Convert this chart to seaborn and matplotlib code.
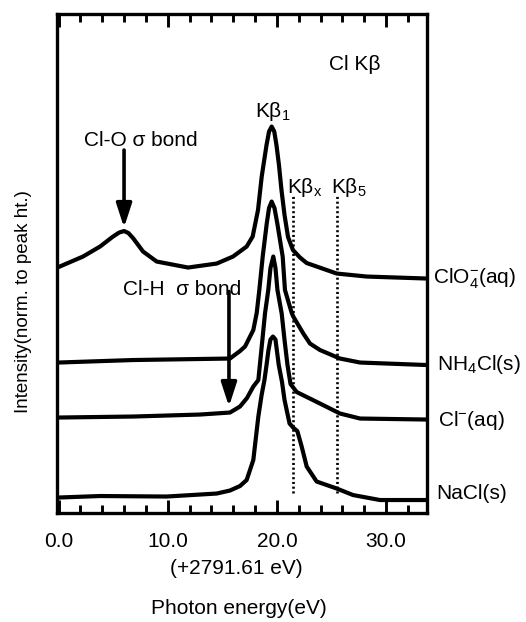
import matplotlib
matplotlib.use("Agg")
import matplotlib.pyplot as plt
import seaborn as sns
import pandas as pd

# ---------------- data ----------------
clo4_e = [0.0, 2.24, 3.80, 4.99, 5.55, 6.00, 6.40, 6.82, 7.74, 8.99, 11.86, 14.49, 15.98, 17.23,
          17.78, 18.27, 18.61, 19.05, 19.28, 19.52, 19.76, 19.96, 20.19, 20.42, 20.70, 21.02,
          21.47, 22.12, 22.73, 25.48, 28.22, 33.75]
clo4_i = [49.1, 51.2, 53.2, 55.2, 56.0, 56.3, 55.9, 54.9, 52.2, 50.2, 49.0, 49.8, 51.2, 53.2,
          55.2, 60.5, 67.2, 73.5, 76.2, 77.2, 76.2, 73.5, 69.5, 64.5, 59.5, 55.1,
          52.5, 51.0, 49.9, 47.8, 47.2, 46.8]

nh4_e = [0.0, 6.82, 15.70, 16.62, 17.08, 17.84, 18.15, 18.39, 18.70, 19.07, 19.28, 19.52, 19.78,
         20.04, 20.53, 20.74, 21.36, 21.50, 22.42, 23.03, 23.95, 25.78, 27.62, 33.75]
nh4_i = [30.0, 30.5, 30.8, 32.3, 33.2, 36.5, 39.9, 44.5, 51.2, 57.8, 60.9, 62.2, 60.9,
         57.8, 51.2, 44.5, 39.9, 39.2, 35.8, 33.8, 32.5, 30.8, 30.0, 29.5]

cl_e = [0.0, 6.82, 12.96, 15.70, 16.62, 17.26, 17.84, 18.30, 18.61, 18.91, 19.21, 19.41, 19.67,
        19.87, 20.05, 20.44, 20.70, 20.97, 21.25, 21.81, 23.95, 25.78, 27.62, 33.75]
cl_i = [19.0, 19.2, 19.6, 20.0, 21.2, 22.9, 25.2, 26.5, 33.2, 39.8, 44.5, 48.9, 51.2,
        48.9, 44.5, 39.8, 34.5, 29.5, 25.7, 24.1, 21.8, 19.8, 18.8, 18.6]

nacl_e = [0.0, 3.80, 9.91, 14.49, 15.70, 16.62, 17.23, 17.84, 18.30, 18.60, 18.86, 19.05, 19.23,
          19.41, 19.64, 19.87, 20.17, 20.47, 20.70, 21.16, 21.53, 21.87, 22.27, 22.73, 23.64,
          25.48, 26.97, 29.44, 33.75]
nacl_i = [3.0, 3.3, 3.2, 3.8, 4.4, 5.3, 6.5, 10.5, 19.2, 23.5, 26.5, 29.5, 32.5,
          34.6, 35.2, 34.6, 29.5, 26.1, 22.5, 17.8, 16.9, 16.3, 13.2, 9.2, 6.2,
          4.8, 3.5, 2.5, 2.5]

samples = ["ClO4-(aq)", "NH4Cl(s)", "Cl-(aq)", "NaCl(s)"]
sample_labels = ["ClO$_4^{-}$(aq)", "NH$_4$Cl(s)", "Cl$^{-}$(aq)", "NaCl(s)"]
label_pos = [(34.32, 45.8), (34.63, 28.6), (34.78, 17.3), (34.63, 2.8)]

line_positions = [21.50, 25.53]          # K-beta_x, K-beta_5 energies
line_range = (3.9, 63.5)

major_ticks = [0, 10, 20, 30]
major_labels = ["0.0", "10.0", "20.0", "30.0"]
minor_ticks = [2, 4, 6, 8, 12, 14, 16, 18, 22, 24, 26, 28, 32]

# ---------------- style ----------------
sns.set_theme(style="ticks")
plt.rcParams["font.family"] = ["Liberation Sans", "DejaVu Sans"]
plt.rcParams["mathtext.fontset"] = "custom"
plt.rcParams["mathtext.rm"] = "Liberation Sans"
plt.rcParams["mathtext.it"] = "Liberation Sans:italic"
plt.rcParams["mathtext.bf"] = "Liberation Sans:bold"
plt.rcParams["lines.solid_joinstyle"] = "round"
plt.rcParams["lines.solid_capstyle"] = "round"
plt.rcParams["text.color"] = "black"
plt.rcParams["xtick.color"] = "black"
plt.rcParams["xtick.labelcolor"] = "black"

df = pd.concat([
    pd.DataFrame({"energy": e, "intensity": i, "sample": s})
    for e, i, s in zip([clo4_e, nh4_e, cl_e, nacl_e],
                       [clo4_i, nh4_i, cl_i, nacl_i], samples)
], ignore_index=True)

fig = plt.figure(figsize=(5.26, 6.22), dpi=100)
ax = fig.add_axes([0.1084, 0.1760, 0.7034, 0.8014])

sns.lineplot(data=df, x="energy", y="intensity", hue="sample", units="sample",
             estimator=None, sort=False, palette=["black"] * 4, legend=False,
             linewidth=3.0, ax=ax)

for xv in line_positions:
    ax.plot([xv, xv], line_range, color="black", lw=1.9, linestyle=(0, (0.8, 1.0)))

ax.set_xlim(-0.14, 33.75)
ax.set_ylim(0, 99.7)
ax.set_xlabel("")
ax.set_ylabel("")
ax.set_yticks([])

for sp in ax.spines.values():
    sp.set_visible(True)
    sp.set_linewidth(2.4)
    sp.set_color("black")

ax.set_xticks(major_ticks)
ax.set_xticklabels(major_labels)
ax.set_xticks(minor_ticks, minor=True)
ax.tick_params(axis="x", which="both", direction="in", top=True, bottom=True,
               width=2.1, color="black", labelsize=15, pad=14, labelcolor="black")
ax.tick_params(axis="x", which="major", length=9.5)
ax.tick_params(axis="x", which="minor", length=5.5)
ax.tick_params(axis="y", which="both", left=False, right=False, labelleft=False)

fs = 15
# annotations
ax.text(27.15, 88.6, "Cl Kβ", fontsize=fs, ha="center", va="baseline")
ax.text(19.60, 79.2, "Kβ$_{1}$", fontsize=fs, ha="center", va="baseline")
ax.text(7.55, 73.4, "Cl-O σ bond", fontsize=fs, ha="center", va="baseline")
ax.text(22.57, 64.0, "Kβ$_{\\mathrm{x}}$", fontsize=fs, ha="center", va="baseline")
ax.text(26.56, 64.0, "Kβ$_{5}$", fontsize=fs, ha="center", va="baseline")
ax.text(11.28, 43.5, "Cl-H  σ bond", fontsize=fs, ha="center", va="baseline")

arrow_style = dict(arrowstyle="-|>,head_length=0.8,head_width=0.26", lw=2.6,
                   color="black", mutation_scale=18, shrinkA=0, shrinkB=0)
ax.annotate("", xy=(6.0, 57.0), xytext=(6.0, 72.5), arrowprops=arrow_style)
ax.annotate("", xy=(15.61, 21.2), xytext=(15.61, 44.2), arrowprops=arrow_style)

for lab, (xp, yp) in zip(sample_labels, label_pos):
    ax.text(xp, yp, lab, fontsize=fs, ha="left", va="baseline", clip_on=False)

fig.text(0.0443, 0.5145, "Intensity(norm. to peak ht.)", rotation=90,
         ha="center", va="center", fontsize=13.5)
fig.text(0.450, 0.0868, "(+2791.61 eV)", ha="center", va="center", fontsize=fs)
fig.text(0.454, 0.0225, "Photon energy(eV)", ha="center", va="center", fontsize=fs)

fig.savefig("out.png", dpi=100, facecolor="white")
